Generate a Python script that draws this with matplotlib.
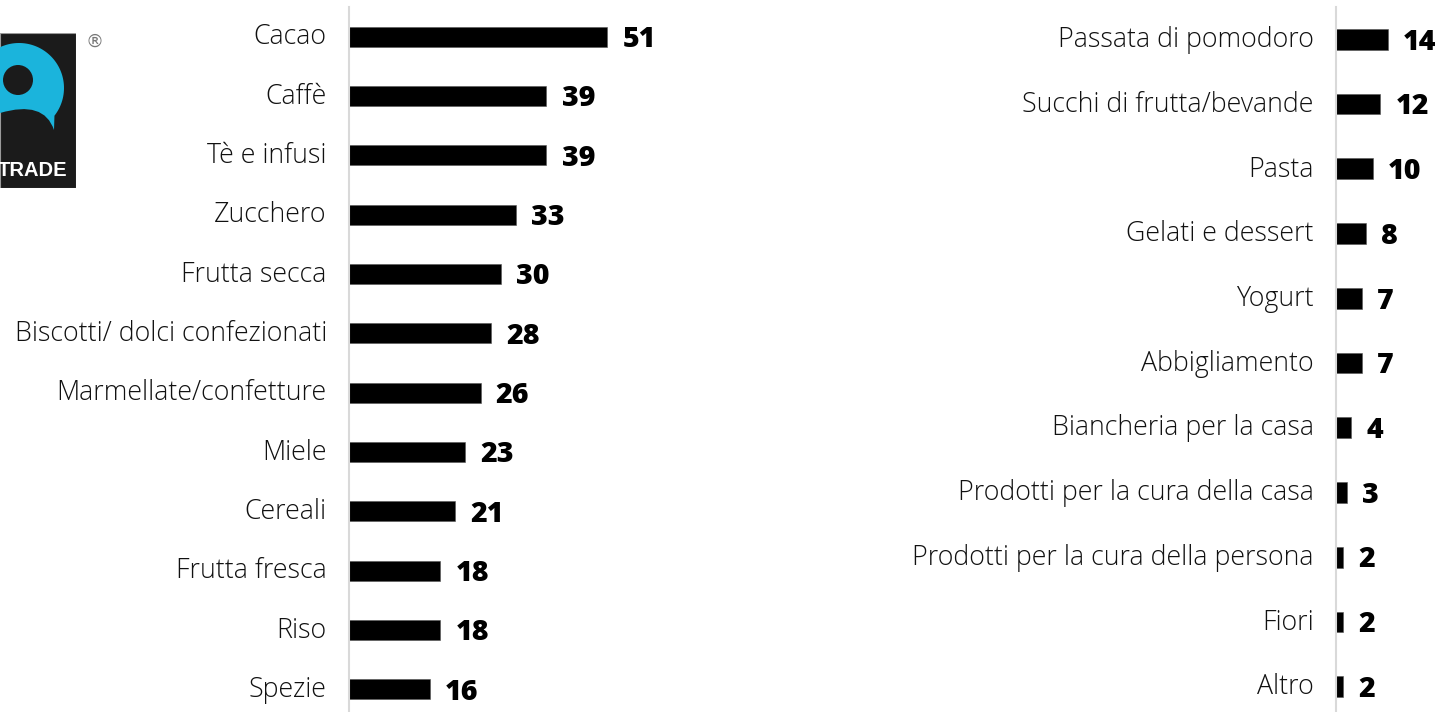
import numpy as np
import matplotlib.pyplot as plt
import matplotlib.transforms as mtransforms
from matplotlib.patches import Rectangle, Circle, PathPatch
from matplotlib.path import Path

# data
left_labels = ["Cacao", "Caffè", "Tè e infusi", "Zucchero", "Frutta secca",
               "Biscotti/ dolci confezionati", "Marmellate/confetture", "Miele",
               "Cereali", "Frutta fresca", "Riso", "Spezie"]
left_values = [51, 39, 39, 33, 30, 28, 26, 23, 21, 18, 18, 16]

right_labels = ["Passata di pomodoro", "Succhi di frutta/bevande", "Pasta",
                "Gelati e dessert", "Yogurt", "Abbigliamento",
                "Biancheria per la casa", "Prodotti per la cura della casa",
                "Prodotti per la cura della persona", "Fiori", "Altro"]
right_values = [14, 12, 10, 8, 7, 7, 4, 3, 2, 2, 2]

W, H = 1441, 712
fig = plt.figure(figsize=(W / 100, H / 100), dpi=100)
fig.patch.set_facecolor("white")

LABEL_FONT = "Open Sans"
LABEL_SIZE = 19.3
VALUE_SIZE = 20.5
SPINE = "#d9d9d9"


def px_axes(x0, x1, y0, y1):
    # pixel box (top-left origin) -> figure axes
    return fig.add_axes([x0 / W, 1 - y1 / H, (x1 - x0) / W, (y1 - y0) / H])


def bar_panel(ax, labels, values, xmax, bar_h):
    y = np.arange(len(labels))
    ax.barh(y, values, height=bar_h, color="black", edgecolor="#555555", linewidth=0.4)
    ax.set_ylim(len(labels) - 0.5, -0.5)
    ax.set_xlim(0, xmax)
    ax.set_yticks(y)
    ax.set_yticklabels(labels, fontsize=LABEL_SIZE, family=LABEL_FONT,
                       fontweight="light", color="#111111")
    ax.tick_params(axis="y", length=0, pad=16)
    # nudge labels up a little so the capitals sit on the bar centre
    shift = mtransforms.ScaledTranslation(0, 2 / 72, fig.dpi_scale_trans)
    for lab in ax.get_yticklabels():
        lab.set_transform(lab.get_transform() + shift)
    ax.set_xticks([])
    for s in ["top", "right", "bottom"]:
        ax.spines[s].set_visible(False)
    ax.spines["left"].set_color(SPINE)
    ax.spines["left"].set_linewidth(1.5)
    ax.set_facecolor("none")
    for yi, v in zip(y, values):
        ax.annotate(str(v), (v, yi), xytext=(11, -0.36 * VALUE_SIZE), textcoords="offset points",
                    ha="left", va="baseline", fontsize=VALUE_SIZE, fontweight="heavy",
                    family=LABEL_FONT, color="black")


# left panel: 5.06 px per unit
axl = px_axes(349, 700, 7, 719)
bar_panel(axl, left_labels, left_values, 351 / 5.06, 0.34)

# right panel: 3.7 px per unit
axr = px_axes(1336, 1441, 7, 719)
bar_panel(axr, right_labels, right_values, 105 / 3.7, 0.32)

# logo (partially cropped at the left edge)
axg = px_axes(0, 76, 33, 188)
axg.set_xlim(0, 76)
axg.set_ylim(188, 33)
axg.axis("off")
axg.add_patch(Rectangle((0, 33), 76, 155, facecolor="#1b1b1b", edgecolor="#9a9a9a", linewidth=0.8))
cx, cy, r = 19, 88, 45
t = np.radians(np.linspace(120, -38, 60))
outer = np.column_stack([cx + r * np.cos(t), cy - r * np.sin(t)])
verts = list(map(tuple, outer)) + [(54, 130), (44, 100), (0, 113), (0, 0)]
codes = [Path.MOVETO] + [Path.LINETO] * (len(outer) - 1) + [Path.LINETO, Path.CURVE3, Path.CURVE3, Path.CLOSEPOLY]
verts[-1] = verts[0]
axg.add_patch(PathPatch(Path(verts, codes), facecolor="#1bb4dc", edgecolor="none"))
axg.add_patch(Circle((18, 80), 15, facecolor="#1b1b1b", edgecolor="none"))
axg.text(67, 171, "TRADE", ha="right", va="center", color="white", fontsize=14.5,
         family="Liberation Sans", fontweight="bold")
fig.text(95 / W, 1 - 42 / H, "®", ha="center", va="center", fontsize=13, color="#777777",
         family="DejaVu Sans")

fig.savefig("out.png", dpi=100, facecolor="white")
